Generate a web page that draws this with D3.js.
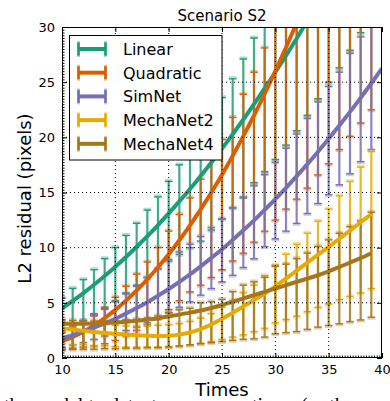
<!DOCTYPE html>
<html>
<head>
<meta charset="utf-8">
<script src="https://cdn.jsdelivr.net/npm/d3@7"></script>
<style>
  body { margin: 0; background: #fff; overflow: hidden; }
  svg { display: block; font-family: "DejaVu Sans", sans-serif; }
</style>
</head>
<body>
<div id="d3"></div>
<script>
// x positions of the error bars
const times = [10,11,12,13,14,15,16,17,18,19,20,21,22,23,24,25,26,27,28,29,30,31,32,33,34,35,36,37,38,39];
// x positions of the fitted curves
const fitTimes = [10,11,12,13,14,15,16,17,18,19,20,21,22,23,24,25,26,27,28,29,30,31,32,33,34,35,36,37,38,39,40];

const seriesNames = ['Linear', 'Quadratic', 'SimNet', 'MechaNet2', 'MechaNet4'];
const seriesColors = ['#1b9e77', '#d95f02', '#7570b3', '#e6ab02', '#a6761d'];

// error bars (low / high)
const linearLow  = [2.6,3.0,3.4,4.0,4.6,5.2,5.9,6.6,7.3,8.1,8.8,9.4,10.0,10.6,11.6,12.6,13.6,14.6,15.9,16.9,18.0,19.3,20.6,22.0,23.5,25.0,26.3,27.9,29.5,31.0];
const linearHigh = [5.4,6.3,7.1,8.0,9.0,10.0,11.1,12.2,13.4,14.6,16.0,17.5,19.0,20.5,22.0,23.6,25.3,27.1,29.0,31.0,33.0,35.0,37.0,39.0,41.0,43.0,45.0,47.0,49.0,51.0];
const quadLow    = [0.8,0.9,1.0,1.1,1.3,1.6,2.0,2.5,3.0,3.6,4.4,5.2,6.0,6.6,7.3,8.0,8.8,9.5,10.5,11.5,12.5,13.5,14.4,15.4,16.6,17.6,18.9,20.1,21.3,22.5];
const quadHigh   = [2.3,2.8,3.2,3.8,4.5,5.5,6.5,7.6,8.7,10.0,11.5,13.0,14.5,16.2,18.0,19.8,21.8,23.9,25.9,28.1,33,36,39,42,45,48,51,54,57,60];
const simLow     = [1.0,1.2,1.4,1.7,2.0,2.2,2.5,2.8,3.2,3.6,4.1,4.6,5.1,5.7,6.3,6.9,7.5,8.2,9.0,10.1,10.8,11.5,12.2,13.1,14.0,14.8,15.7,16.7,17.8,18.9];
const simHigh    = [2.6,3.0,3.4,3.9,4.4,5.1,5.8,6.5,7.3,8.1,8.9,9.6,10.3,11.0,11.8,12.6,13.6,14.5,15.6,16.6,17.7,19.0,20.3,21.7,23.2,24.6,25.9,27.6,29.1,30.8];
const mecha2Low  = [1.3,1.25,1.2,1.15,1.1,1.05,1.0,1.0,1.0,1.0,1.05,1.1,1.2,1.35,1.5,1.7,1.9,2.1,2.4,2.7,3.2,3.5,3.8,4.2,4.6,4.9,5.3,5.6,5.9,6.3];
const mecha2High = [3.3,3.2,3.1,3.05,3.0,2.95,2.9,2.9,2.9,2.95,3.0,3.1,3.3,3.6,4.0,4.6,5.2,5.9,6.6,7.45,8.4,9.4,10.3,11.3,12.4,13.5,14.7,16.0,17.3,18.7];
const mecha4Low  = [0.8,0.8,0.8,0.8,0.85,0.85,0.9,0.9,0.95,0.95,1.0,1.1,1.2,1.3,1.4,1.5,1.6,1.7,1.75,1.9,2.2,2.3,2.4,2.6,2.8,2.95,3.1,3.3,3.45,3.7];
const mecha4High = [3.45,3.4,3.35,3.35,3.35,3.4,3.45,3.5,3.6,3.8,4.1,4.36,4.5,5.0,5.1,5.3,6.0,6.6,6.9,7.3,8.3,8.5,9.0,9.5,10.1,10.7,11.3,11.9,12.4,13.2];

// fitted curves (null = not drawn)
const linearFit = [4.5,5.17,5.88,6.64,7.44,8.28,9.16,10.08,11.04,12.05,13.1,14.19,15.32,16.5,17.72,18.98,20.28,21.62,23.0,24.43,25.9,27.41,28.96,30.56,32.2,33.9,35.6,37.4,39.2,41.1,43.0];
const quadFit   = [1.5,1.9,2.38,2.96,3.62,4.36,5.2,6.12,7.13,8.22,9.4,10.67,12.03,13.47,15.0,16.61,18.32,20.11,21.98,23.95,26.0,28.14,30.37,32.68,35.1,37.6,40.2,42.9,45.6,48.5,51.4];
const simFit    = [1.8,2.08,2.39,2.75,3.14,3.56,4.03,4.53,5.06,5.64,6.25,6.9,7.58,8.31,9.07,9.86,10.7,11.57,12.47,13.42,14.4,15.42,16.48,17.57,18.7,19.87,21.07,22.31,23.58,24.9,26.25];
const mecha2Fit = [2.7,2.58,2.46,2.36,2.27,2.19,2.12,2.06,2.02,2.0,2.02,2.12,2.32,2.62,3.03,3.55,4.1,4.68,5.26,5.85,6.5,7.2,7.92,8.64,9.36,10.08,10.81,11.55,12.3,13.05,null];
const mecha4Fit = [3.1,3.1,3.11,3.13,3.16,3.21,3.28,3.37,3.48,3.61,3.76,3.93,4.11,4.31,4.53,4.8,5.1,5.4,5.7,6.0,6.3,6.6,6.9,7.2,7.5,7.85,8.25,8.65,9.05,9.5,null];

const xTicks = [10,15,20,25,30,35,40];
const yTicks = [0,5,10,15,20,25,30];

const lows  = [linearLow, quadLow, simLow, mecha2Low, mecha4Low];
const highs = [linearHigh, quadHigh, simHigh, mecha2High, mecha4High];
const fits  = [linearFit, quadFit, simFit, mecha2Fit, mecha4Fit];

const W = 390, H = 401;
const margin = { left: 62, right: 8, top: 27, bottom: 43 };

const svg = d3.select('#d3').append('svg').attr('width', W).attr('height', H);

const x = d3.scaleLinear().domain([10, 40]).range([margin.left, W - margin.right]);
const y = d3.scaleLinear().domain([0, 30]).range([H - margin.bottom, margin.top]);

svg.append('clipPath').attr('id', 'plotclip').append('rect')
  .attr('x', x(10)).attr('y', y(30)).attr('width', x(40) - x(10)).attr('height', y(0) - y(30));

const plot = svg.append('g').attr('clip-path', 'url(#plotclip)');

// error bars
const capW = 3.8;
seriesNames.forEach((name, s) => {
  const g = plot.append('g').attr('class', 'bars-' + s);
  const col = seriesColors[s];
  times.forEach((t, i) => {
    const px = x(t), y0 = y(lows[s][i]), y1 = y(highs[s][i]);
    g.append('line').attr('x1', px).attr('x2', px).attr('y1', y0).attr('y2', y1)
      .attr('stroke', col).attr('stroke-width', 2.2).attr('stroke-opacity', 0.85);
    [[y0, 1], [y1, -1]].forEach(([cy, dir]) => {
      g.append('line').attr('x1', px - capW).attr('x2', px + capW)
        .attr('y1', cy + dir * 1.2).attr('y2', cy + dir * 1.2)
        .attr('stroke', col).attr('stroke-width', 2.6).attr('stroke-opacity', 0.35);
      g.append('line').attr('x1', px - capW).attr('x2', px + capW).attr('y1', cy).attr('y2', cy)
        .attr('stroke', col).attr('stroke-width', 1.4);
    });
  });
});

// fitted curves
const line = d3.line()
  .defined(d => d[1] != null)
  .x(d => x(d[0])).y(d => y(d[1]))
  .curve(d3.curveMonotoneX);

seriesNames.forEach((name, s) => {
  plot.append('path')
    .datum(fitTimes.map((t, i) => [t, fits[s][i]]))
    .attr('d', line)
    .attr('fill', 'none')
    .attr('stroke', seriesColors[s])
    .attr('stroke-width', 4);
});

// dotted grid on top
const grid = svg.append('g').attr('class', 'grid');
xTicks.slice(1, -1).forEach(t => {
  grid.append('line').attr('x1', x(t)).attr('x2', x(t)).attr('y1', y(0)).attr('y2', y(30))
    .attr('stroke', '#000').attr('stroke-width', 1).attr('stroke-dasharray', '1,3');
});
yTicks.slice(1, -1).forEach(v => {
  grid.append('line').attr('x1', x(10)).attr('x2', x(40)).attr('y1', y(v)).attr('y2', y(v))
    .attr('stroke', '#000').attr('stroke-width', 1).attr('stroke-dasharray', '1,3');
});

// axes
const minorX = d3.range(10, 40.001, 0.25);
const minorY = d3.range(0, 30.001, 0.25);

function styleAxis(g) {
  g.select('.domain').remove();
  g.selectAll('.tick line').attr('stroke', '#000');
  g.selectAll('text').attr('fill', '#000').style('font-size', '13px')
    .style('font-family', '"DejaVu Sans", sans-serif');
}

svg.append('g').attr('transform', `translate(0, ${y(0)})`)
  .call(d3.axisBottom(x).tickValues(minorX).tickSize(-2.5).tickFormat(''))
  .call(styleAxis);
svg.append('g').attr('transform', `translate(${x(10)}, 0)`)
  .call(d3.axisLeft(y).tickValues(minorY).tickSize(-2.5).tickFormat(''))
  .call(styleAxis);

svg.append('g').attr('transform', `translate(0, ${y(0)})`)
  .call(d3.axisBottom(x).tickValues(xTicks).tickSize(-5).tickPadding(7).tickFormat(d3.format('d')))
  .call(styleAxis);
svg.append('g').attr('transform', `translate(${x(10)}, 0)`)
  .call(d3.axisLeft(y).tickValues(yTicks).tickSize(-5).tickPadding(7).tickFormat(d3.format('d')))
  .call(styleAxis);
svg.append('g').attr('transform', `translate(0, ${y(30)})`)
  .call(d3.axisTop(x).tickValues(xTicks).tickSize(-5).tickFormat(''))
  .call(styleAxis);
svg.append('g').attr('transform', `translate(${x(40)}, 0)`)
  .call(d3.axisRight(y).tickValues(yTicks).tickSize(-5).tickFormat(''))
  .call(styleAxis);

svg.append('rect')
  .attr('x', x(10) + 0.5).attr('y', y(30) + 0.5)
  .attr('width', x(40) - x(10) - 1).attr('height', y(0) - y(30) - 1)
  .attr('fill', 'none').attr('stroke', '#000').attr('stroke-width', 1);

// legend
const legend = svg.append('g').attr('transform', 'translate(69.5, 35.5)');
legend.append('rect').attr('width', 152.5).attr('height', 124.5)
  .attr('fill', '#fff').attr('stroke', '#000').attr('stroke-width', 1);
seriesNames.forEach((name, s) => {
  const ly = 13.5 + s * 23.7;
  const col = seriesColors[s];
  const g = legend.append('g').attr('transform', `translate(0, ${ly})`);
  g.append('line').attr('x1', 9).attr('x2', 36).attr('y1', 0).attr('y2', 0)
    .attr('stroke', col).attr('stroke-width', 4);
  [9, 36].forEach(cx => {
    g.append('line').attr('x1', cx).attr('x2', cx).attr('y1', -8).attr('y2', 8)
      .attr('stroke', col).attr('stroke-width', 2.6).attr('stroke-opacity', 0.45);
    g.append('line').attr('x1', cx).attr('x2', cx).attr('y1', -6.5).attr('y2', 6.5)
      .attr('stroke', col).attr('stroke-width', 2.6);
  });
  g.append('text').attr('x', 53.5).attr('y', 5.8).text(name)
    .style('font-size', '16px').attr('fill', '#000');
});

// title and axis labels
svg.append('text').attr('x', (x(10) + x(40)) / 2).attr('y', 21)
  .attr('text-anchor', 'middle').style('font-size', '15px').text('Scenario S2');

svg.append('text').attr('x', (x(10) + x(40)) / 2).attr('y', 396)
  .attr('text-anchor', 'middle').style('font-size', '18px').text('Times');

svg.append('text').attr('transform', `translate(31, ${(y(0) + y(30)) / 2 + 6}) rotate(-90)`)
  .attr('text-anchor', 'middle').style('font-size', '18px').text('L2 residual (pixels)');

// caption of the paper, cut off by the bottom of the picture
const caption = svg.append('g').style('font-family', '"Liberation Serif", serif').style('font-size', '20px');
caption.append('text').attr('x', 4).attr('y', 412).text('the model to detect');
caption.append('text').attr('x', 252).attr('y', 412).text('tions, (or the');
</script>
</body>
</html>
